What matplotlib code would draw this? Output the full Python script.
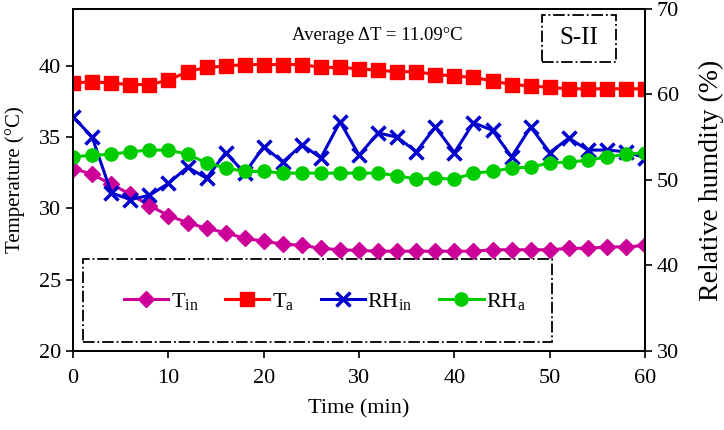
import numpy as np
import matplotlib
matplotlib.use("Agg")
import matplotlib.pyplot as plt
from matplotlib.patches import Rectangle

plt.rcParams['font.family'] = ['Liberation Serif', 'DejaVu Serif']
plt.rcParams['mathtext.fontset'] = 'custom'
plt.rcParams['mathtext.rm'] = 'Liberation Serif'

# data (time step 2 min)
time = np.arange(0, 61, 2)
t_in = [32.8, 32.4, 31.7, 31.0, 30.2, 29.5, 29.0, 28.6, 28.3, 27.9, 27.7,
        27.5, 27.4, 27.2, 27.1, 27.05, 27.0, 27.0, 27.0, 27.0, 27.0, 27.0,
        27.1, 27.1, 27.1, 27.1, 27.2, 27.2, 27.3, 27.3, 27.4]
t_a = [38.8, 38.9, 38.8, 38.7, 38.7, 39.0, 39.6, 39.9, 40.0, 40.1, 40.1,
       40.1, 40.1, 39.9, 39.9, 39.8, 39.7, 39.6, 39.6, 39.4, 39.3, 39.2,
       38.95, 38.7, 38.6, 38.5, 38.4, 38.4, 38.4, 38.4, 38.4]
rh_in = [57.4, 55.0, 48.5, 47.7, 48.2, 49.6, 51.5, 50.2, 53.2, 50.8, 53.9,
         52.1, 54.1, 52.6, 56.8, 52.9, 55.5, 55.0, 53.3, 56.2, 53.2, 56.7,
         55.8, 52.7, 56.2, 53.2, 54.9, 53.5, 53.5, 53.3, 52.6]
rh_a = [52.7, 52.9, 53.0, 53.3, 53.5, 53.5, 53.0, 52.0, 51.4, 51.0, 51.0,
        50.8, 50.8, 50.8, 50.8, 50.8, 50.8, 50.5, 50.1, 50.2, 50.1, 50.8,
        51.0, 51.4, 51.5, 52.0, 52.1, 52.3, 52.7, 53.0, 53.2]

fig = plt.figure(figsize=(7.24, 4.30), dpi=100)
ax1 = fig.add_axes([0.101, 0.184, 0.790, 0.795])
ax2 = ax1.twinx()

lw = 2.2
h1, = ax1.plot(time, t_in, color='#CC0099', marker='D', ms=8, lw=lw,
               label=r'T$_{\rm in}$')
h2, = ax1.plot(time, t_a, color='#FF0000', marker='s', ms=9.5, lw=lw,
               label=r'T$_{\rm a}$')
h3, = ax2.plot(time, rh_in, color='#0000CC', marker='x', ms=9.5, mew=2.5, lw=lw,
               label=r'RH$_{\rm in}$')
h4, = ax2.plot(time, rh_a, color='#00CC00', marker='o', ms=9.5, lw=lw,
               label=r'RH$_{\rm a}$')

ax1.set_xlim(0, 60)
ax1.set_ylim(20, 44)
ax1.set_yticks([20, 25, 30, 35, 40])
ax1.set_xticks(range(0, 61, 10))
ax2.set_ylim(30, 70)
ax2.set_yticks([30, 40, 50, 60, 70])

for a in (ax1, ax2):
    a.tick_params(direction='out', labelsize=16, length=5, width=1.2)
    for s in a.spines.values():
        s.set_linewidth(1.3)
ax1.tick_params(axis='x', pad=8)

ax1.set_xlabel('Time (min)', fontsize=16, labelpad=8)
ax1.set_ylabel('Temperature (°C)', fontsize=15, labelpad=10)
ax2.set_ylabel('Relative humdity (%)', fontsize=20, labelpad=14)

ax1.text(0.531, 0.924, 'Average \u0394T = 11.09\u00b0C', transform=ax1.transAxes,
         ha='center', va='center', fontsize=13.5)

# S-II tag in a dash-dot box
ax1.add_patch(Rectangle((0.820, 0.845), 0.129, 0.137, transform=ax1.transAxes,
                        fill=False, ec='black', ls='-.', lw=1.3))
ax1.text(0.885, 0.914, 'S-II', transform=ax1.transAxes, ha='center',
         va='center', fontsize=18)

# dash-dot box around the legend
ax2.add_patch(Rectangle((0.017, 0.026), 0.820, 0.243, transform=ax2.transAxes,
                        fill=False, ec='black', ls='-.', lw=1.3, zorder=5))
leg = ax2.legend(handles=[h1, h2, h3, h4], ncol=4, frameon=False,
                 loc='center', bbox_to_anchor=(0.44, 0.143), fontsize=16,
                 handlelength=2.0, handletextpad=0.1, columnspacing=1.2)

fig.savefig('out.png', dpi=100)
